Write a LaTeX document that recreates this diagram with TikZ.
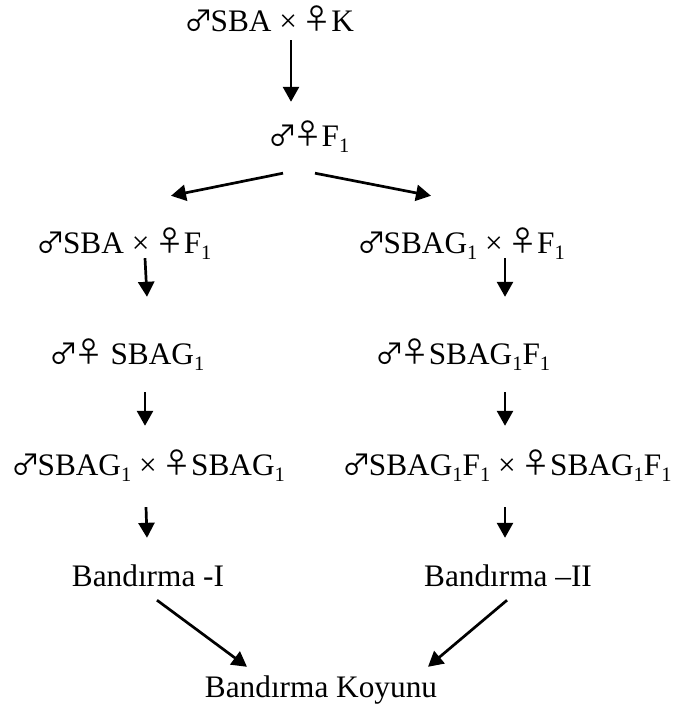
\documentclass[tikz,border=0pt]{standalone}
\usepackage{fontspec}
\setmainfont{Liberation Serif}
\newfontfamily\symf{Noto Sans CJK JP}
\usetikzlibrary{arrows.meta}
\newcommand\lo[1]{\raisebox{-0.2em}{\fontsize{20.5}{20}\selectfont #1}}
\newcommand\M{{\kern-2pt\symf\fontsize{29}{30}\selectfont ♂\kern-2.5pt}}
\newcommand\W{{\kern-2pt\symf\fontsize{29}{30}\selectfont\raisebox{2pt}{♀}\kern-0.5pt}}
\begin{document}
\begin{tikzpicture}[x=1pt,y=-1pt,
  lbl/.style={anchor=base,inner sep=0pt,text height=21pt,text depth=6pt,font=\fontsize{31.3}{36}\selectfont},
  arr/.style={line width=2.7pt,-{Triangle[length=15pt,width=16pt]}}]
\useasboundingbox (0,0) rectangle (675,709);
\node[lbl] (top) at (270,32) {\M SBA × \W K};
\node[lbl] (f1) at (310,146) {\M\W F\lo{1}};
\node[lbl] (lc) at (125,253) {\M SBA × \W F\lo{1}};
\node[lbl] (rc) at (462,253) {\M SBAG\lo{1} × \W F\lo{1}};
\node[lbl] (l2) at (128,364) {\M\W{} SBAG\lo{1}};
\node[lbl] (r2) at (464,364) {\M\W SBAG\lo{1}F\lo{1}};
\node[lbl] (l3) at (149,475) {\M SBAG\lo{1} × \W SBAG\lo{1}};
\node[lbl] (r3) at (508,475) {\M SBAG\lo{1}F\lo{1} × \W SBAG\lo{1}F\lo{1}};
\node[lbl] (l4) at (148,586) {Bandırma -I};
\node[lbl] (r4) at (508,586) {Bandırma –II};
\node[lbl] (bot) at (321,697) {Bandırma Koyunu};
\draw[arr] ([xshift=21pt,yshift=-2pt]top.south) -- ([xshift=-19pt,yshift=23pt]f1.north);
\draw[arr] ([xshift=-27pt,yshift=-21pt]f1.south) -- ([xshift=46pt,yshift=36pt]lc.north);
\draw[arr] ([xshift=5pt,yshift=-21pt]f1.south) -- ([xshift=-31pt,yshift=36pt]rc.north);
\draw[arr] ([xshift=20pt,yshift=1pt]lc.south) -- ([xshift=19pt,yshift=46pt]l2.north);
\draw[arr] ([xshift=43pt,yshift=1pt]rc.south) -- ([xshift=41pt,yshift=46pt]r2.north);
\draw[arr] ([xshift=17pt,yshift=-22pt]l2.south) -- ([xshift=-4pt,yshift=28pt]l3.north);
\draw[arr] ([xshift=41pt,yshift=-22pt]r2.south) -- ([xshift=-3pt,yshift=28pt]r3.north);
\draw[arr] ([xshift=-3pt,yshift=-26pt]l3.south) -- ([xshift=-1pt,yshift=27pt]l4.north);
\draw[arr] ([xshift=-3pt,yshift=-26pt]r3.south) -- ([xshift=-3pt,yshift=27pt]r4.north);
\draw[arr] ([xshift=9pt,yshift=-8pt]l4.south) -- ([xshift=-74pt,yshift=9pt]bot.north);
\draw[arr] ([xshift=-1pt,yshift=-8pt]r4.south) -- ([xshift=107pt,yshift=9pt]bot.north);
\end{tikzpicture}
\end{document}
